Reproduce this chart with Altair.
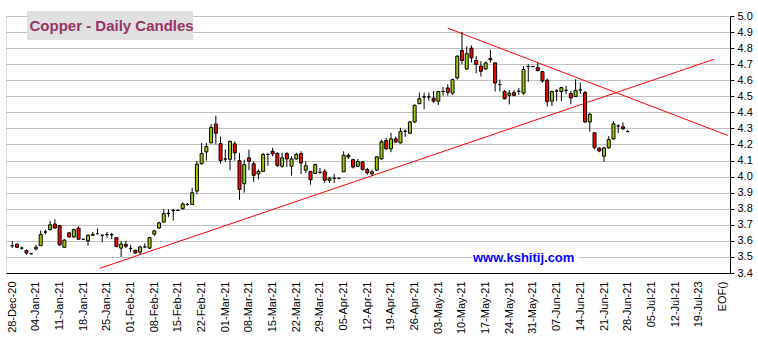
import altair as alt
import pandas as pd

week_labels = ["28-Dec-20", "04-Jan-21", "11-Jan-21", "18-Jan-21", "25-Jan-21", "01-Feb-21",
               "08-Feb-21", "15-Feb-21", "22-Feb-21", "01-Mar-21", "08-Mar-21", "15-Mar-21",
               "22-Mar-21", "29-Mar-21", "05-Apr-21", "12-Apr-21", "19-Apr-21", "26-Apr-21",
               "03-May-21", "10-May-21", "17-May-21", "24-May-21", "31-May-21", "07-Jun-21",
               "14-Jun-21", "21-Jun-21", "28-Jun-21", "05-Jul-21", "12-Jul-21", "19-Jul-23", "EOF()"]

opens = [3.57, 3.58, 3.555, 3.54, 3.52, 3.55, 3.57, 3.655, 3.67, 3.705,
         3.695, 3.56, 3.65, 3.625, 3.68, 3.61, 3.60, 3.635, 3.645, 3.635,
         3.64, 3.638, 3.62, 3.555, 3.577, 3.553, 3.542, 3.53, 3.562, 3.555,
         3.642, 3.68, 3.717, 3.77, 3.788, 3.79, 3.80, 3.827, 3.827, 3.91,
         4.08, 4.154, 4.21, 4.327, 4.206, 4.11, 4.108, 4.204, 4.10, 3.956,
         4.117, 4.08, 4.017, 4.033, 4.138, 4.158, 4.144, 4.065, 4.144, 4.065,
         4.11, 4.144, 4.04, 4.033, 4.02, 4.027, 4.033, 3.977, 3.99, 3.99,
         4.03, 4.133, 4.106, 4.065, 4.092, 4.044, 4.017, 4.04, 4.11, 4.225,
         4.173, 4.235, 4.21, 4.283, 4.27, 4.34, 4.454, 4.496, 4.496, 4.488,
         4.47, 4.53, 4.552, 4.52, 4.615, 4.785, 4.67, 4.80, 4.723, 4.688,
         4.67, 4.735, 4.708, 4.573, 4.53, 4.506, 4.523, 4.531, 4.52, 4.685,
         4.685, 4.68, 4.654, 4.60, 4.47, 4.533, 4.53, 4.537, 4.517, 4.498,
         4.54, 4.523, 4.34, 4.273, 4.177, 4.127, 4.179, 4.235, 4.315, 4.31,
         4.28]
highs = [3.60, 3.58, 3.565, 3.547, 3.525, 3.575, 3.665, 3.67, 3.725, 3.735,
         3.70, 3.61, 3.655, 3.675, 3.69, 3.612, 3.64, 3.655, 3.677, 3.637,
         3.655, 3.65, 3.62, 3.60, 3.60, 3.575, 3.542, 3.57, 3.585, 3.625,
         3.67, 3.72, 3.796, 3.796, 3.80, 3.795, 3.84, 3.835, 3.93, 4.097,
         4.21, 4.21, 4.327, 4.38, 4.25, 4.17, 4.223, 4.22, 4.148, 4.105,
         4.168, 4.095, 4.044, 4.148, 4.148, 4.179, 4.152, 4.148, 4.152, 4.127,
         4.148, 4.158, 4.096, 4.033, 4.081, 4.054, 4.048, 3.998, 4.017, 3.99,
         4.158, 4.144, 4.11, 4.11, 4.096, 4.054, 4.044, 4.127, 4.23, 4.242,
         4.273, 4.248, 4.304, 4.294, 4.346, 4.45, 4.523, 4.523, 4.523, 4.533,
         4.533, 4.558, 4.575, 4.61, 4.756, 4.90, 4.81, 4.817, 4.75, 4.719,
         4.715, 4.79, 4.708, 4.604, 4.54, 4.54, 4.54, 4.552, 4.688, 4.70,
         4.685, 4.71, 4.658, 4.61, 4.535, 4.544, 4.56, 4.565, 4.533, 4.606,
         4.585, 4.533, 4.398, 4.273, 4.185, 4.185, 4.252, 4.346, 4.325, 4.338,
         4.29]
lows = [3.555, 3.555, 3.545, 3.515, 3.515, 3.54, 3.57, 3.64, 3.665, 3.675,
        3.57, 3.56, 3.62, 3.62, 3.61, 3.608, 3.57, 3.63, 3.64, 3.59,
        3.62, 3.61, 3.56, 3.50, 3.555, 3.53, 3.52, 3.515, 3.56, 3.55,
        3.63, 3.675, 3.717, 3.75, 3.727, 3.788, 3.795, 3.82, 3.827, 3.89,
        4.075, 4.10, 4.21, 4.20, 4.08, 4.09, 4.04, 4.10, 3.856, 3.90,
        4.04, 3.967, 3.983, 4.033, 4.067, 4.127, 4.06, 4.056, 4.06, 4.006,
        4.106, 4.017, 4.023, 3.95, 4.015, 4.015, 3.96, 3.96, 3.96, 3.99,
        4.03, 4.11, 4.05, 4.06, 4.038, 4.013, 4.006, 4.034, 4.106, 4.165,
        4.152, 4.21, 4.206, 4.248, 4.265, 4.335, 4.454, 4.42, 4.473, 4.46,
        4.446, 4.504, 4.504, 4.51, 4.604, 4.70, 4.665, 4.71, 4.644, 4.623,
        4.665, 4.71, 4.53, 4.53, 4.48, 4.45, 4.50, 4.51, 4.51, 4.59,
        4.685, 4.655, 4.585, 4.436, 4.44, 4.47, 4.47, 4.515, 4.45, 4.498,
        4.515, 4.335, 4.28, 4.17, 4.152, 4.092, 4.173, 4.231, 4.27, 4.29,
        4.28]
closes = [3.57, 3.56, 3.555, 3.525, 3.52, 3.56, 3.64, 3.655, 3.70, 3.68,
          3.575, 3.605, 3.625, 3.67, 3.61, 3.61, 3.635, 3.64, 3.645, 3.635,
          3.64, 3.638, 3.565, 3.58, 3.567, 3.553, 3.525, 3.562, 3.562, 3.62,
          3.662, 3.712, 3.77, 3.772, 3.79, 3.79, 3.83, 3.827, 3.90, 4.077,
          4.144, 4.187, 4.306, 4.27, 4.10, 4.11, 4.22, 4.148, 3.92, 4.075,
          4.096, 4.008, 4.033, 4.138, 4.138, 4.142, 4.07, 4.117, 4.11, 4.11,
          4.138, 4.085, 4.068, 3.98, 4.075, 4.027, 3.977, 3.99, 3.99, 3.99,
          4.133, 4.123, 4.06, 4.094, 4.044, 4.023, 4.03, 4.123, 4.217, 4.173,
          4.235, 4.215, 4.28, 4.283, 4.34, 4.444, 4.485, 4.496, 4.496, 4.47,
          4.53, 4.53, 4.525, 4.604, 4.75, 4.723, 4.765, 4.74, 4.698, 4.656,
          4.708, 4.728, 4.583, 4.573, 4.485, 4.52, 4.506, 4.531, 4.667, 4.685,
          4.685, 4.66, 4.596, 4.467, 4.53, 4.533, 4.554, 4.537, 4.49, 4.537,
          4.54, 4.34, 4.388, 4.18, 4.16, 4.179, 4.231, 4.329, 4.315, 4.298,
          4.28]

trend_names = ["support", "support", "resistance", "resistance"]
trend_slots = [18.5, 148.3, 92.0, 151.2]
trend_prices = [3.429, 4.731, 4.924, 4.256]

df = pd.DataFrame({"slot": list(range(len(opens))), "open": opens, "high": highs,
                   "low": lows, "close": closes})
df["dir"] = ["up" if c > o else ("down" if c < o else "flat") for o, c in zip(opens, closes)]
trend = pd.DataFrame({"name": trend_names, "slot": trend_slots, "price": trend_prices})

label_expr = "[" + ",".join("'" + s + "'" for s in week_labels) + "][round(datum.value / 5)]"

xscale = alt.Scale(domain=[-0.27, 150.56], nice=False, zero=False)
yscale = alt.Scale(domain=[3.4, 5.0], nice=False, zero=False)

xaxis = alt.Axis(values=list(range(0, 151, 5)), labelExpr=label_expr, labelAngle=270,
                 grid=False, ticks=False, domainColor="#000000", domainWidth=1,
                 labelFont="Liberation Sans", labelFontSize=11, labelColor="#000000",
                 labelPadding=8, labelOverlap=False, title=None)
yaxis = alt.Axis(orient="right", values=[round(3.4 + 0.1 * i, 1) for i in range(17)],
                 format=".1f", grid=True, gridColor="#c0c0c0", gridWidth=1,
                 tickColor="#000000", tickSize=4, domainColor="#000000",
                 labelFont="Liberation Sans", labelFontSize=11, labelColor="#000000",
                 labelPadding=3, title=None, labelOverlap=False)

base = alt.Chart(df)

wicks = base.mark_rule(color="#000000", strokeWidth=1).encode(
    x=alt.X("slot:Q", scale=xscale, axis=xaxis),
    y=alt.Y("low:Q", scale=yscale, axis=yaxis),
    y2="high:Q",
)
bodies = base.mark_bar(size=3, stroke="#000000", strokeWidth=1).encode(
    x=alt.X("slot:Q", scale=xscale, axis=xaxis),
    y=alt.Y("open:Q", scale=yscale, axis=yaxis),
    y2="close:Q",
    color=alt.Color("dir:N", scale=alt.Scale(domain=["up", "down", "flat"],
                                             range=["#99cc00", "#ff0000", "#000000"]),
                    legend=None),
)
lines = alt.Chart(trend).mark_line(color="#ff0000", strokeWidth=1, clip=False).encode(
    x=alt.X("slot:Q", scale=xscale, axis=xaxis),
    y=alt.Y("price:Q", scale=yscale, axis=yaxis),
    detail="name:N",
)

one = pd.DataFrame({"t": ["Copper - Daily Candles"], "w": ["www.kshitij.com"]})
title_box = alt.Chart(one).mark_rect(color="#e0e0e0").encode(
    x=alt.value(21), x2=alt.value(187), y=alt.value(-5), y2=alt.value(24))
title_text = alt.Chart(one).mark_text(
    font="Liberation Sans", fontSize=15, fontWeight="bold", color="#993366",
    align="left", baseline="alphabetic").encode(
    text="t:N", x=alt.value(23.5), y=alt.value(14.7))
wm_box = alt.Chart(one).mark_rect(color="#ffffff").encode(
    x=alt.value(465), x2=alt.value(573), y=alt.value(234), y2=alt.value(250))
wm_text = alt.Chart(one).mark_text(
    font="Liberation Sans", fontSize=13, fontWeight="bold", color="#0000ff",
    align="left", baseline="middle").encode(
    text="w:N", x=alt.value(467), y=alt.value(242))

chart = alt.layer(wm_box, wm_text, lines, wicks, bodies, title_box, title_text).properties(
    width=724, height=257,
    autosize=alt.AutoSizeParams(type="none"),
    padding={"left": 6, "top": 16, "right": 28, "bottom": 67},
).configure_view(stroke=None).configure(background="#ffffff")

chart.save("out.html", embed_options={"renderer": "svg", "actions": False})
